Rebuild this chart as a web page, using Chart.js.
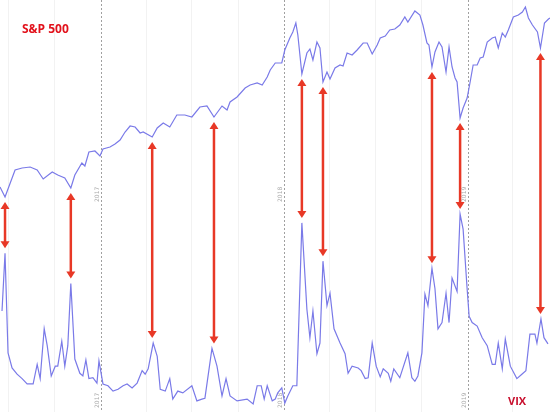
<!DOCTYPE html>
<html>
<head>
<meta charset="utf-8">
<script src="https://cdn.jsdelivr.net/npm/chart.js@4.4.0/dist/chart.umd.min.js"></script>
<style>
  html, body { margin: 0; padding: 0; background: #fff; }
  #graphs { display: block; }
</style>
</head>
<body>
<canvas id="graphs" width="550" height="412"></canvas>
<script>
// x values are days counted from 14 Jun 2016 (weekly-ish closes)
const spxDays = [
  0, 10, 30, 44, 60, 74, 86, 104, 115, 129,
  141, 149, 163, 169, 177, 189, 199, 205, 219, 229,
  239, 249, 259, 269, 279, 285, 303, 313, 325, 338,
  352, 368, 382, 398, 412, 426, 442, 452, 458, 472,
  488, 498, 512, 522, 532, 538, 548, 561, 567, 577,
  583, 589, 593, 601, 611, 617, 623, 631, 637, 643,
  651, 657, 667, 677, 683, 691, 701, 711, 723, 731,
  741, 751, 757, 767, 776, 786, 796, 806, 812, 826,
  836, 842, 850, 854, 860, 866, 874, 880, 888, 894,
  900, 906, 910, 916, 922, 930, 936, 942, 950, 956,
  962, 970, 980, 986, 992, 1000, 1006, 1012, 1022, 1032,
  1040, 1046, 1052, 1060, 1070, 1076, 1084, 1092, 1095
];
const spxValues = [
  2055, 2005, 2140, 2150, 2155, 2140, 2095, 2130, 2115, 2100,
  2050, 2115, 2175, 2160, 2230, 2235, 2210, 2245, 2255, 2270,
  2290, 2330, 2360, 2355, 2325, 2330, 2305, 2350, 2375, 2355,
  2415, 2415, 2405, 2455, 2460, 2405, 2460, 2440, 2480, 2505,
  2550, 2565, 2575, 2565, 2605, 2640, 2675, 2675, 2740, 2800,
  2830, 2875, 2815, 2620, 2725, 2745, 2690, 2780, 2750, 2580,
  2630, 2595, 2650, 2665, 2660, 2725, 2715, 2740, 2775, 2775,
  2720, 2765, 2800, 2810, 2840, 2845, 2865, 2905, 2880, 2935,
  2915, 2865, 2775, 2765, 2655, 2730, 2780, 2755, 2630, 2755,
  2655, 2600, 2580, 2400, 2450, 2500, 2580, 2665, 2665, 2700,
  2705, 2780, 2800, 2805, 2750, 2825, 2805, 2840, 2905, 2915,
  2930, 2955, 2900, 2865, 2830, 2750, 2875, 2895, 2900
];

const vixDays = [
  4, 10, 16, 24, 34, 44, 54, 66, 74, 80,
  88, 94, 102, 110, 115, 123, 129, 135, 141, 149,
  159, 165, 171, 177, 185, 193, 197, 205, 215, 225,
  235, 245, 253, 263, 273, 283, 289, 295, 305, 313,
  319, 329, 338, 344, 354, 364, 382, 392, 402, 408,
  422, 432, 442, 450, 458, 472, 492, 504, 512, 520,
  526, 532, 542, 548, 553, 561, 567, 573, 583, 591,
  601, 611, 617, 623, 631, 637, 643, 651, 657, 665,
  677, 687, 693, 701, 713, 719, 727, 733, 741, 749,
  757, 763, 773, 778, 784, 796, 812, 820, 826, 832,
  840, 846, 852, 860, 866, 872, 880, 888, 894, 900,
  910, 916, 922, 930, 934, 940, 950, 960, 970, 980,
  986, 992, 1000, 1006, 1016, 1029, 1039, 1047, 1055, 1065,
  1069, 1077, 1083, 1091
];
const vixValues = [
  19.1, 25.6, 14.4, 12.7, 12.0, 11.5, 10.9, 10.9, 13.1, 11.5,
  17.1, 15.2, 11.8, 12.9, 12.9, 15.7, 12.9, 15.2, 22.2, 13.7,
  12.1, 11.8, 13.6, 11.5, 11.6, 11.0, 13.5, 10.9, 10.7, 10.1,
  10.3, 10.7, 10.9, 10.45, 11.0, 12.4, 12.0, 12.6, 15.5, 14.0,
  10.3, 10.1, 11.5, 9.2, 10.1, 9.9, 10.7, 9.0, 9.2, 9.3,
  14.9, 12.9, 9.55, 11.5, 9.55, 9.0, 9.2, 8.65, 10.7, 10.7,
  9.2, 10.7, 9.0, 9.2, 9.9, 10.45, 8.75, 9.55, 10.7, 10.7,
  29.0, 19.3, 16.1, 19.1, 14.3, 15.5, 24.7, 19.7, 21.1, 17.1,
  15.5, 14.3, 12.1, 12.9, 12.7, 12.4, 11.5, 11.6, 15.5, 12.9,
  11.7, 12.6, 12.1, 11.2, 12.6, 11.6, 14.4, 11.6, 11.2, 11.8,
  14.4, 21.0, 19.7, 23.9, 21.6, 17.1, 17.8, 21.1, 17.8, 22.8,
  21.3, 30.0, 28.3, 21.6, 18.5, 17.8, 17.4, 16.1, 15.2, 13.1,
  13.1, 15.5, 12.6, 15.95, 12.9, 11.5, 12.0, 12.4, 16.5, 16.5,
  15.5, 18.2, 16.1, 15.4
];

// quarter starts (light grid) and year starts (dashed)
const quarterTicks = [17, 109, 201, 291, 382, 474, 566, 656, 747, 839, 931, 1021];
const yearTicks = [201, 566, 931];
const yearLabels = ['2017', '2018', '2019'];

// S&P sell-offs that line up with VIX spikes
const eventDays = [10, 141, 303, 426, 601, 643, 860, 916, 1076];

const lineBlue = 'rgb(122, 122, 232)';
const arrowRed = 'rgb(232, 56, 38)';

function nearest(days, d) {
  let best = 0;
  days.forEach((v, i) => { if (Math.abs(v - d) < Math.abs(days[best] - d)) best = i; });
  return best;
}

function drawArrow(ctx, x, y1, y2) {
  const head = 7, half = 4.5;
  ctx.beginPath();
  ctx.moveTo(x, y1 + head - 1);
  ctx.lineTo(x, y2 - head + 1);
  ctx.stroke();
  ctx.beginPath();
  ctx.moveTo(x, y1);
  ctx.lineTo(x - half, y1 + head);
  ctx.lineTo(x + half, y1 + head);
  ctx.closePath();
  ctx.fill();
  ctx.beginPath();
  ctx.moveTo(x, y2);
  ctx.lineTo(x - half, y2 - head);
  ctx.lineTo(x + half, y2 - head);
  ctx.closePath();
  ctx.fill();
}

const overlay = {
  id: 'overlay',
  beforeDatasetsDraw(chart) {
    const { ctx, chartArea, scales: { x } } = chart;
    ctx.save();
    ctx.strokeStyle = '#a0a0a0';
    ctx.lineWidth = 1;
    ctx.setLineDash([2, 2]);
    yearTicks.forEach(d => {
      const px = Math.round(x.getPixelForValue(d)) + 0.5;
      ctx.beginPath();
      ctx.moveTo(px, chartArea.top);
      ctx.lineTo(px, chartArea.bottom);
      ctx.stroke();
    });
    ctx.setLineDash([]);
    ctx.fillStyle = '#aaaaaa';
    ctx.font = '6px "DejaVu Sans"';
    yearTicks.forEach((d, i) => {
      const px = x.getPixelForValue(d);
      [202, 408].forEach(yy => {
        ctx.save();
        ctx.translate(px - 2, yy);
        ctx.rotate(-Math.PI / 2);
        ctx.fillText(yearLabels[i], 0, 0);
        ctx.restore();
      });
    });
    ctx.restore();
  },
  afterDatasetsDraw(chart) {
    const { ctx, scales: { x, ySpx, yVix } } = chart;
    ctx.save();
    ctx.strokeStyle = arrowRed;
    ctx.fillStyle = arrowRed;
    ctx.lineWidth = 2.5;
    eventDays.forEach(d => {
      const i = nearest(spxDays, d);
      const j = nearest(vixDays, d);
      const px = x.getPixelForValue(spxDays[i]);
      const top = ySpx.getPixelForValue(spxValues[i]) + 5;
      const bottom = yVix.getPixelForValue(vixValues[j]) - 5;
      drawArrow(ctx, px, top, bottom);
    });

    ctx.font = 'bold 12px "Open Sans"';
    ctx.fillStyle = 'rgb(226, 18, 28)';
    ctx.fillText('S&P 500', 22, 33);
    ctx.font = 'bold 11px "Open Sans"';
    ctx.fillStyle = 'rgb(200, 16, 46)';
    ctx.fillText('VIX', 508, 405);
    ctx.restore();
  }
};

let config = {
  type: 'line',
  data: {
    datasets: [
      {
        label: 'S&P 500',
        data: spxDays.map((d, i) => ({ x: d, y: spxValues[i] })),
        yAxisID: 'ySpx',
        borderColor: lineBlue,
        borderWidth: 1.2,
        pointRadius: 0,
        tension: 0,
        fill: false
      },
      {
        label: 'VIX',
        data: vixDays.map((d, i) => ({ x: d, y: vixValues[i] })),
        yAxisID: 'yVix',
        borderColor: lineBlue,
        borderWidth: 1.2,
        pointRadius: 0,
        tension: 0,
        fill: false
      }
    ]
  },
  options: {
    responsive: false,
    animation: false,
    layout: { padding: 0 },
    plugins: {
      legend: { display: false },
      tooltip: { enabled: false }
    },
    scales: {
      x: {
        type: 'linear',
        min: 0,
        max: 1095,
        afterBuildTicks: scale => {
          scale.ticks = quarterTicks.map(v => ({ value: v }));
        },
        ticks: { display: false },
        grid: {
          drawTicks: false,
          color: c => (c.tick && yearTicks.includes(c.tick.value)) ? 'rgba(0,0,0,0)' : 'rgba(0,0,0,0.05)'
        },
        border: { display: false }
      },
      ySpx: { display: false, min: 930, max: 2990 },
      yVix: { display: false, min: 7.75, max: 54.05 }
    }
  },
  plugins: [overlay]
};

window.onload = function() {
  let ctx = document.querySelector('#graphs').getContext('2d');
  window.myChart = new Chart(ctx, config);
};
</script>
</body>
</html>
